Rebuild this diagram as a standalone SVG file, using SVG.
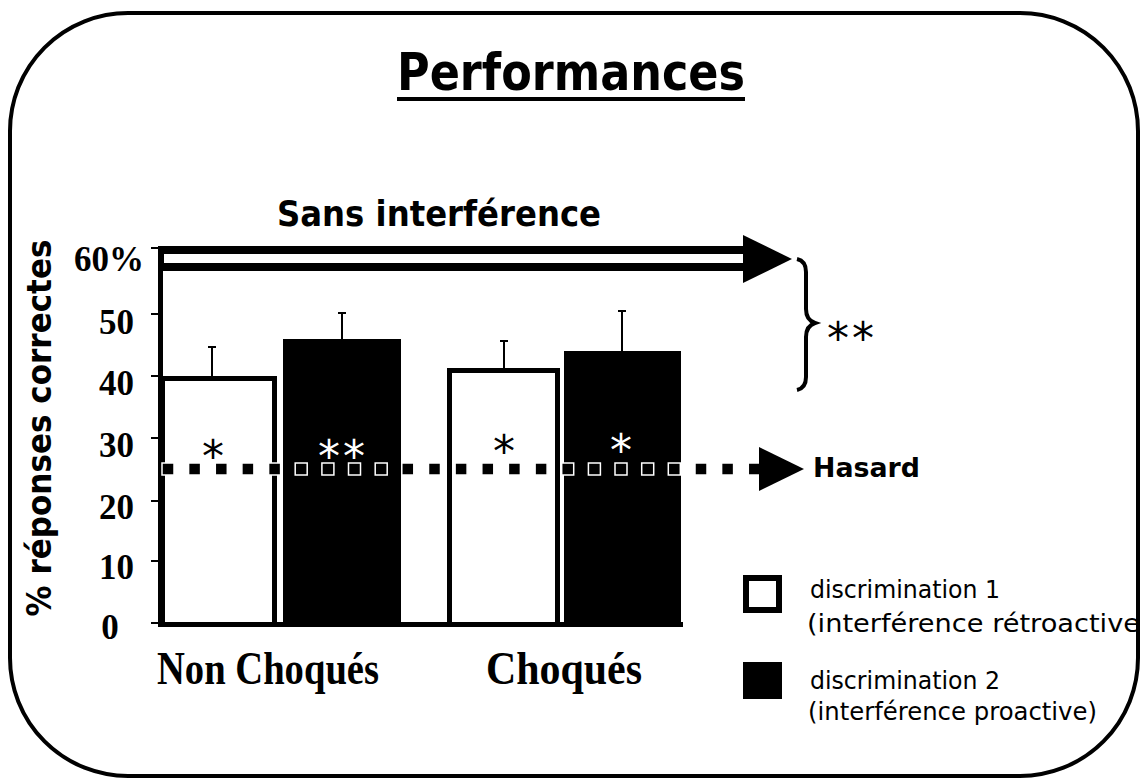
<svg xmlns="http://www.w3.org/2000/svg" width="1142" height="782" viewBox="0 0 1142 782">
<style>
.comic{font-family:"DejaVu Sans","Noto Sans",sans-serif;fill:#000}
.b{font-weight:bold}
.num{font-family:"Liberation Serif","Times New Roman",serif;font-weight:bold;font-size:35px;fill:#000}
.grp{font-family:"Liberation Serif","Times New Roman",serif;font-weight:bold;font-size:46px;fill:#000}
.ast{font-family:"DejaVu Sans",sans-serif;font-size:44px;text-anchor:middle}
.tick{stroke:#000;stroke-width:2}
.err{stroke:#000;stroke-width:2;fill:none}
.sq{fill:#000;stroke:#fff;stroke-width:1.5}
</style>
<rect x="0" y="0" width="1142" height="782" fill="#fff"/>
<g id="frame">
<rect x="10" y="13" width="1128" height="763" rx="118" ry="118" fill="none" stroke="#000" stroke-width="4"/>
</g>
<g id="title">
<text class="comic b" x="397" y="90" font-size="52" textLength="348" lengthAdjust="spacingAndGlyphs">Performances</text>
<rect x="397" y="97" width="348" height="4" fill="#000"/>
</g>
<g id="sans-interference">
<text class="comic b" x="277" y="226" font-size="35" textLength="324" lengthAdjust="spacingAndGlyphs">Sans interférence</text>
</g>
<g id="y-axis-title">
<text class="comic b" transform="translate(51,428) rotate(-90)" text-anchor="middle" font-size="33" textLength="377" lengthAdjust="spacingAndGlyphs">% réponses correctes</text>
</g>
<g id="y-axis">
<text class="num" x="144" y="271" text-anchor="end">60%</text>
<text class="num" x="134" y="334" text-anchor="end">50</text>
<text class="num" x="134" y="395" text-anchor="end">40</text>
<text class="num" x="134" y="457" text-anchor="end">30</text>
<text class="num" x="134" y="519" text-anchor="end">20</text>
<text class="num" x="134" y="579" text-anchor="end">10</text>
<text class="num" x="110" y="639" text-anchor="middle">0</text>
<line class="tick" x1="151" y1="248" x2="160" y2="248"/>
<line class="tick" x1="151" y1="314" x2="160" y2="314"/>
<line class="tick" x1="151" y1="376" x2="160" y2="376"/>
<line class="tick" x1="151" y1="438" x2="160" y2="438"/>
<line class="tick" x1="151" y1="501" x2="160" y2="501"/>
<line class="tick" x1="151" y1="561" x2="160" y2="561"/>
<line class="tick" x1="151" y1="623" x2="160" y2="623"/>
</g>
<g id="bars">
<rect x="162.5" y="378.5" width="112" height="246" fill="#fff" stroke="#000" stroke-width="5"/>
<rect x="283" y="339" width="118" height="286" fill="#000"/>
<rect x="449.5" y="370.5" width="108" height="254" fill="#fff" stroke="#000" stroke-width="5"/>
<rect x="564" y="351" width="117" height="274" fill="#000"/>
<path class="err" d="M212,376V347M208,347H216"/>
<path class="err" d="M342,339V313M338,313H346"/>
<path class="err" d="M504,368V341M500,341H508"/>
<path class="err" d="M622,351V311M618,311H626"/>
</g>
<g id="axes">
<rect x="158" y="246" width="5" height="381" fill="#000"/>
<rect x="158" y="622" width="525" height="5" fill="#000"/>
</g>
<g id="sans-arrow">
<rect x="160" y="246" width="586" height="25" fill="#000"/>
<rect x="164" y="254" width="582" height="9" fill="#fff"/>
<polygon points="743,235 792,259 743,283" fill="#000"/>
</g>
<g id="significance">
<text class="ast" x="213" y="472" fill="#000">*</text>
<text class="ast" x="343" y="472" fill="#fff" letter-spacing="3">**</text>
<text class="ast" x="504" y="467" fill="#000">*</text>
<text class="ast" x="621" y="466" fill="#fff">*</text>
</g>
<g id="hasard">
<g id="hasard-dots">
<rect class="sq" x="162" y="463" width="12" height="12"/>
<rect class="sq" x="188.6" y="463" width="12" height="12"/>
<rect class="sq" x="215.3" y="463" width="12" height="12"/>
<rect class="sq" x="241.9" y="463" width="12" height="12"/>
<rect class="sq" x="268.6" y="463" width="12" height="12"/>
<rect class="sq" x="295.2" y="463" width="12" height="12"/>
<rect class="sq" x="321.9" y="463" width="12" height="12"/>
<rect class="sq" x="348.5" y="463" width="12" height="12"/>
<rect class="sq" x="375.2" y="463" width="12" height="12"/>
<rect class="sq" x="401.8" y="463" width="12" height="12"/>
<rect class="sq" x="428.5" y="463" width="12" height="12"/>
<rect class="sq" x="455.1" y="463" width="12" height="12"/>
<rect class="sq" x="481.8" y="463" width="12" height="12"/>
<rect class="sq" x="508.4" y="463" width="12" height="12"/>
<rect class="sq" x="535.1" y="463" width="12" height="12"/>
<rect class="sq" x="561.7" y="463" width="12" height="12"/>
<rect class="sq" x="588.4" y="463" width="12" height="12"/>
<rect class="sq" x="615" y="463" width="12" height="12"/>
<rect class="sq" x="641.7" y="463" width="12" height="12"/>
<rect class="sq" x="668.3" y="463" width="12" height="12"/>
<rect class="sq" x="695" y="463" width="12" height="12"/>
<rect class="sq" x="721.6" y="463" width="12" height="12"/>
<rect class="sq" x="748.3" y="463" width="12" height="12"/>
</g>
<polygon points="759,447 804,469 759,491" fill="#000"/>
<text class="comic b" x="813" y="477" font-size="26" textLength="107" lengthAdjust="spacingAndGlyphs">Hasard</text>
</g>
<g id="brace">
<path d="M797,259 Q806,261 806,272 V309 Q806,320 815,323 Q806,326 806,337 V377 Q806,388 797,390" fill="none" stroke="#000" stroke-width="4"/>
<text class="ast" x="852" y="354" fill="#000" letter-spacing="3">**</text>
</g>
<g id="group-labels">
<text class="grp" x="268" y="684" text-anchor="middle" textLength="222" lengthAdjust="spacingAndGlyphs">Non Choqués</text>
<text class="grp" x="564" y="684" text-anchor="middle" textLength="156" lengthAdjust="spacingAndGlyphs">Choqués</text>
</g>
<g id="legend">
<rect x="746" y="578" width="33" height="32" fill="#fff" stroke="#000" stroke-width="6"/>
<text class="comic" x="810" y="598" font-size="24" textLength="190" lengthAdjust="spacingAndGlyphs">discrimination 1</text>
<text class="comic" x="807" y="632" font-size="24" textLength="333" lengthAdjust="spacingAndGlyphs">(interférence rétroactive</text>
<rect x="743" y="662" width="39" height="37" fill="#000"/>
<text class="comic" x="810" y="689" font-size="24" textLength="190" lengthAdjust="spacingAndGlyphs">discrimination 2</text>
<text class="comic" x="808" y="720" font-size="24" textLength="289" lengthAdjust="spacingAndGlyphs">(interférence proactive)</text>
</g>
</svg>
